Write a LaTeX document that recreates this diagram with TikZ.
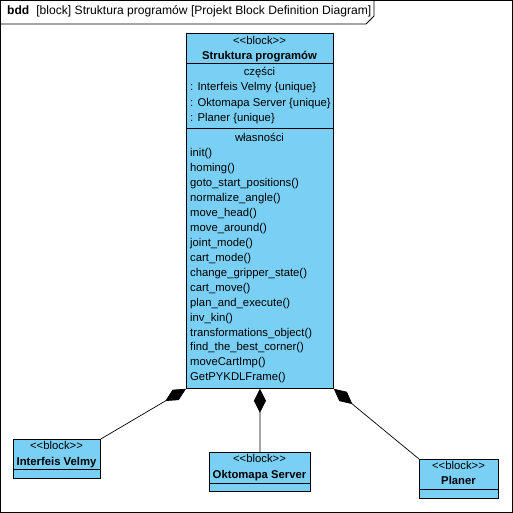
\documentclass[tikz,border=0pt]{standalone}
\usepackage{fontspec}
\setmainfont{Liberation Sans}
\usetikzlibrary{arrows.meta}
\definecolor{blockfill}{RGB}{122,207,245}
\newcommand{\stereo}[1]{{<}{<}#1{>}{>}}
\begin{document}
\begin{tikzpicture}[x=1bp,y=-1bp,
  every node/.style={inner sep=0pt, font=\fontsize{11.3bp}{13bp}\selectfont, text height=8.2bp, text depth=2.4bp},
  blockbox/.style={draw=black, line width=0.8bp, fill=blockfill, rectangle, anchor=north west, text height=, text depth=},
  txt/.style={anchor=west},
  ctxt/.style={anchor=center},
  bname/.style={anchor=center, font=\fontsize{11.3bp}{13bp}\selectfont\bfseries},
  divider/.style={draw=black, line width=0.8bp},
  comp/.style={draw=black, line width=0.7bp, {Diamond[length=24bp,width=12bp]}-}
]
\useasboundingbox (0,0) rectangle (513,513);
\fill[white] (0,0) rectangle (513,513);
% frame
\draw[line width=0.8bp] (0.5,0.5) rectangle (512.5,512.5);
\draw[line width=0.8bp] (0.5,24) -- (366,24) -- (374,16) -- (374,0.5);
\node[txt, font=\fontsize{12.1bp}{14bp}\selectfont] (title) at (7,12) {\textbf{bdd}\hspace{7bp}[block] Struktura programów [Projekt Block Definition Diagram]};

% main block
\node[blockbox, minimum width=147bp, minimum height=355bp] (main) at (186,33) {};
\node[ctxt] (mst) at (259.5,42) {\stereo{block}};
\node[bname] (mname) at (259.5,57) {Struktura programów};
\draw[divider] (186,63) -- (333,63);
\node[ctxt] (parts) at (259.5,73) {części};
\node[txt] (p1) at (190,88) {: Interfeis Velmy \{unique\}};
\node[txt] (p2) at (190,103.5) {: Oktomapa Server \{unique\}};
\node[txt] (p3) at (190,119) {: Planer \{unique\}};
\draw[divider] (186,128) -- (333,128);
\node[ctxt] (props) at (259.5,139) {własności};
\foreach \t [count=\i from 0] in {init(),homing(),goto\_start\_positions(),normalize\_angle(),move\_head(),move\_around(),joint\_mode(),cart\_mode(),change\_gripper\_state(),cart\_move(),plan\_and\_execute(),inv\_kin(),transformations\_object(),find\_the\_best\_corner(),moveCartImp(),GetPYKDLFrame()}
  \node[txt] (op\i) at (190,154+14.93*\i) {\t};

% Interfeis Velmy
\node[blockbox, minimum width=87bp, minimum height=39bp] (iv) at (13,439) {};
\node[ctxt] (ivst) at (56.5,447) {\stereo{block}};
\node[bname] (ivname) at (56.5,462.5) {Interfeis Velmy};
\draw[divider] (13,469) -- (100,469);

% Oktomapa Server
\node[blockbox, minimum width=101bp, minimum height=39bp] (ok) at (209,452) {};
\node[ctxt] (okst) at (259.5,460) {\stereo{block}};
\node[bname] (okname) at (259.5,475.5) {Oktomapa Server};
\draw[divider] (209,483) -- (310,483);

% Planer
\node[blockbox, minimum width=79bp, minimum height=39bp] (pl) at (419,459) {};
\node[ctxt] (plst) at (458.5,467) {\stereo{block}};
\node[bname] (plname) at (458.5,482) {Planer};
\draw[divider] (419,489) -- (498,489);

% composition connectors
\draw[comp] (main.south west) -- (iv.north east);
\draw[comp] (main.south) -- (ok.north);
\draw[comp] (main.south east) -- (pl.north west);
\end{tikzpicture}
\end{document}
